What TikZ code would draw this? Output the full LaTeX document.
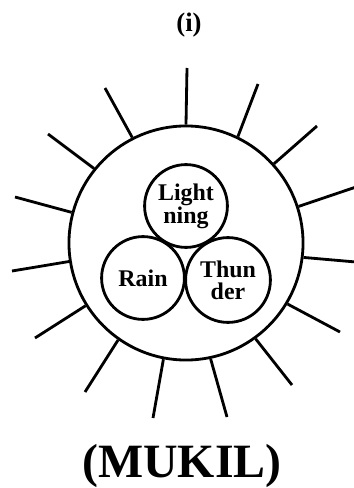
\documentclass[tikz,border=0pt]{standalone}
\usepackage{fontspec}
\setmainfont{Liberation Serif}
\begin{document}
\begin{tikzpicture}[x=0.025cm,y=-0.025cm,
  ring/.style={circle,draw,line width=2pt,inner sep=0pt},
  ray/.style={line width=2pt},
  lbl/.style={font=\bfseries\fontsize{17}{15.5}\selectfont,align=center}]
\useasboundingbox (0,0) rectangle (354,488);
\node[font=\bfseries\fontsize{19}{22}\selectfont] (title) at (189,25) {(i)};
\node[ring,minimum size=5.85cm] (big) at (186,243) {};
\node[ring,minimum size=2.07cm,lbl] (light) at (186,206) {Light\\ning};
\node[ring,minimum size=2.07cm,lbl] (rain) at (143,278) {Rain};
\node[ring,minimum size=2.12cm,lbl] (thun) at (228,280) {Thun\\der};
\node[font=\bfseries\fontsize{34}{36}\selectfont] (mukil) at (182,466) {(MUKIL)};
\coordinate (e1) at (187,68);
\coordinate (e2) at (105,88);
\coordinate (e3) at (48,134);
\coordinate (e4) at (15,197);
\coordinate (e5) at (12,271);
\coordinate (e6) at (35,338);
\coordinate (e7) at (85,392);
\coordinate (e8) at (153,418);
\coordinate (e9) at (227,417);
\coordinate (e10) at (292,385);
\coordinate (e11) at (340,332);
\coordinate (e12) at (356,262);
\coordinate (e13) at (356,187);
\coordinate (e14) at (317,126);
\coordinate (e15) at (258,84);
\foreach \a/\e in {90/e1,117/e2,141/e3,165.5/e4,189/e5,212/e6,235.5/e7,259/e8,282.6/e9,306/e10,329/e11,353/e12,18/e13,42/e14,64.5/e15}
  \draw[ray] (big.\a) -- (\e);
\end{tikzpicture}
\end{document}
